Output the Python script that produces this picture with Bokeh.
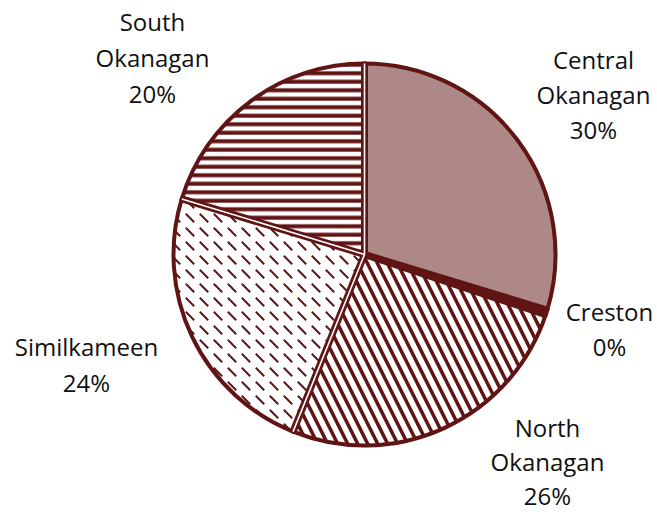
import math
from bokeh.plotting import figure
from bokeh.models import Range1d
from bokeh.core.properties import value
from bokeh.embed import file_html
from bokeh.resources import INLINE

# ---- data ----
regions = ["Central Okanagan", "Creston", "North Okanagan", "Similkameen", "South Okanagan"]
shares = [29.7, 0.4, 26.0, 23.6, 20.3]
pct_labels = ["30%", "0%", "26%", "24%", "20%"]

# ---- layout / style ----
W, H = 657, 512
CX, CY, R = 364, 258, 191
DARK = "#601414"
fills = ["#ad8886", DARK, "white", "white", "white"]
hatches = [" ", " ", "left_diagonal_line", "left_diagonal_dash", "horizontal_line"]
hatch_scales = [12, 12, 20, 14, 8.5]
hatch_weights = [1, 1, 3.5, 2, 4]
# label block anchors in picture pixels: (center x, first baseline y)
label_pos = [(593, 68), (609, 320), (547, 436), (86, 355), (152, 30)]
line_heights = [35, 35, 34, 36, 36]
TEXT_SHIFT = 9  # renderer places alphabetic baseline slightly lower

def px(x):
    return x

def py(y):
    return H - (y - TEXT_SHIFT)

p = figure(width=W, height=H, x_range=Range1d(0, W), y_range=Range1d(0, H),
           x_axis_type=None, y_axis_type=None, toolbar_location=None,
           output_backend="svg", min_border=0)
p.grid.visible = False
p.outline_line_color = None
p.background_fill_color = "white"
p.border_fill_color = "white"

total = sum(shares)
angles = []
cum = 0.0
for v in shares:
    a0 = math.radians(90 - cum / total * 360)
    cum += v
    a1 = math.radians(90 - cum / total * 360)
    angles.append((a0, a1))

for i in range(len(shares)):
    a0, a1 = angles[i]
    kw = {}
    if hatches[i] != " ":
        kw = dict(hatch_pattern=hatches[i], hatch_color=DARK,
                  hatch_scale=hatch_scales[i], hatch_weight=hatch_weights[i])
    p.wedge(x=[CX], y=[CY], radius=R, start_angle=[a0], end_angle=[a1],
            direction="clock", fill_color=fills[i], line_color=DARK,
            line_width=4, line_join="miter", **kw)

# slice boundaries: dark band with thin white separator
bounds = [a[0] for a in angles]
bx = [CX + R * math.cos(a) for a in bounds]
by = [CY + R * math.sin(a) for a in bounds]
p.segment(x0=[CX] * len(bounds), y0=[CY] * len(bounds), x1=bx, y1=by,
          line_color=DARK, line_width=7, line_cap="butt")
white_idx = [0, 3, 4]  # South/Central, North/Similkameen, Similkameen/South
wx = [bx[i] for i in white_idx]
wy = [by[i] for i in white_idx]
p.segment(x0=[CX] * len(wx), y0=[CY] * len(wx), x1=wx, y1=wy,
          line_color="white", line_width=1.6, line_cap="butt")

# labels
tx, ty, tt = [], [], []
for i, name in enumerate(regions):
    lines = name.split(" ") + [pct_labels[i]]
    x0, y0 = label_pos[i]
    for k, ln in enumerate(lines):
        tx.append(px(x0))
        ty.append(py(y0 + k * line_heights[i]))
        tt.append(ln)
p.text(x=tx, y=ty, text=tt, text_align="center", text_baseline="alphabetic",
       text_font=value("Open Sans"), text_font_size="24px", text_color="#111111")

open("out.html", "w").write(file_html(p, INLINE))
